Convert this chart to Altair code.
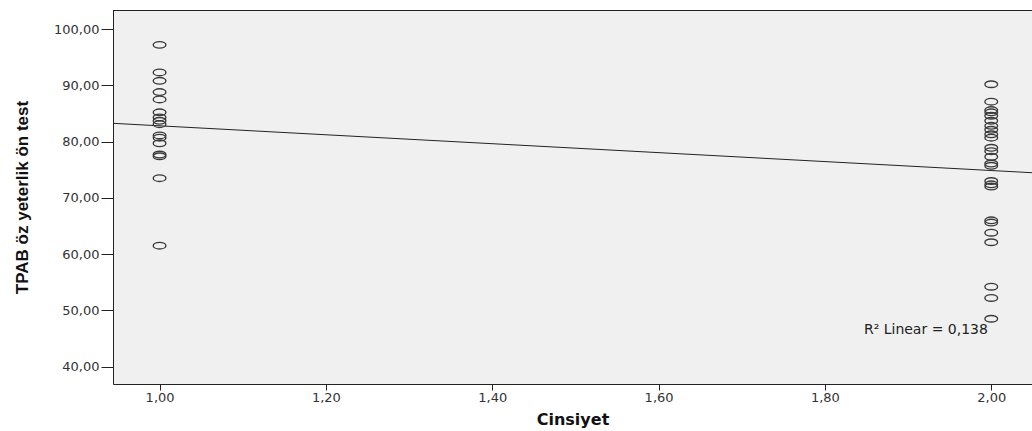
import altair as alt
import pandas as pd

# Values
group_1_scores = [97.2, 92.3, 90.8, 88.8, 87.5, 85.2, 84.3, 83.7, 83.1, 81.1,
                  80.7, 79.7, 77.7, 77.4, 73.5, 61.5]
group_2_scores = [90.2, 87.1, 85.6, 85.2, 84.6, 83.7, 82.8, 82.1, 81.3, 80.7,
                  78.9, 78.3, 77.3, 76.1, 75.7, 73.0, 72.4, 72.0, 66.0, 65.6,
                  63.8, 62.1, 54.2, 52.2, 48.5]
group_codes = [1.0, 2.0]

# Linear fit line (as drawn in the reference)
fit_x = [0.944, 2.049]
fit_y = [83.25, 74.47]

x_domain = [0.944, 2.049]
y_domain = [36.9, 103.4]
x_ticks = [1.0, 1.2, 1.4, 1.6, 1.8, 2.0]
y_ticks = [40, 50, 60, 70, 80, 90, 100]

note_text = ["R\u00b2 Linear = 0,138"]
note_x = [1.996]
note_y = [45.85]

W, H = 919, 374

pts = pd.DataFrame({
    "Cinsiyet": [group_codes[0]] * len(group_1_scores) + [group_codes[1]] * len(group_2_scores),
    "TPAB": group_1_scores + group_2_scores,
})
fit = pd.DataFrame({"Cinsiyet": fit_x, "TPAB": fit_y})
note = pd.DataFrame({"Cinsiyet": note_x, "TPAB": note_y, "t": note_text})

label_expr = "replace(format(datum.value, '.2f'), '.', ',')"

xscale = alt.Scale(domain=x_domain, nice=False, zero=False)
yscale = alt.Scale(domain=y_domain, nice=False, zero=False)

x_axis = alt.Axis(
    values=x_ticks, labelExpr=label_expr, grid=False, tickSize=6,
    labelPadding=11, labelBaseline="alphabetic", title="Cinsiyet",
    titleY=40, titleBaseline="alphabetic", titleFontSize=16,
)
y_axis = alt.Axis(
    values=y_ticks, labelExpr=label_expr, grid=False, tickSize=12,
    labelPadding=2, title="TPAB öz yeterlik ön test",
    titleX=-91, titleY=H / 2, titleBaseline="middle", titleAlign="center",
    titleFont="Liberation Sans", titleFontSize=17,
)

ellipse = "M-1,0A1,0.52,0,1,0,1,0A1,0.52,0,1,0,-1,0Z"

points = alt.Chart(pts).mark_point(
    shape=ellipse, size=160, filled=False, stroke="#3a3a3a", strokeWidth=1.4, opacity=1
).encode(
    x=alt.X("Cinsiyet:Q", scale=xscale, axis=x_axis),
    y=alt.Y("TPAB:Q", scale=yscale, axis=y_axis),
)

line = alt.Chart(fit).mark_line(color="#222222", strokeWidth=1, clip=True).encode(
    x=alt.X("Cinsiyet:Q", scale=xscale),
    y=alt.Y("TPAB:Q", scale=yscale),
)

label = alt.Chart(note).mark_text(
    align="right", baseline="alphabetic", font="DejaVu Sans", fontSize=14, color="#222222"
).encode(
    x=alt.X("Cinsiyet:Q", scale=xscale),
    y=alt.Y("TPAB:Q", scale=yscale),
    text="t:N",
)

top_border = alt.Chart(pd.DataFrame({"a": [0]})).mark_rule(color="#222222", strokeWidth=1).encode(
    x=alt.value(0), x2=alt.value(W), y=alt.value(0.5)
)

chart = alt.layer(line, points, label, top_border).properties(
    width=W, height=H,
    autosize=alt.AutoSizeParams(type="none"),
    padding={"left": 113, "top": 10, "right": 0, "bottom": 47},
    background="white",
).configure_view(
    stroke=None, fill="#F0F0F0"
).configure_axis(
    labelFont="DejaVu Sans", labelFontSize=13, labelColor="#333333",
    titleFont="DejaVu Sans", titleFontSize=15, titleFontWeight="bold", titleColor="#111111",
    domainColor="#222222", domainWidth=1, tickColor="#222222", tickWidth=1,
)

chart.save("out.html", embed_options={"renderer": "svg", "actions": False})
